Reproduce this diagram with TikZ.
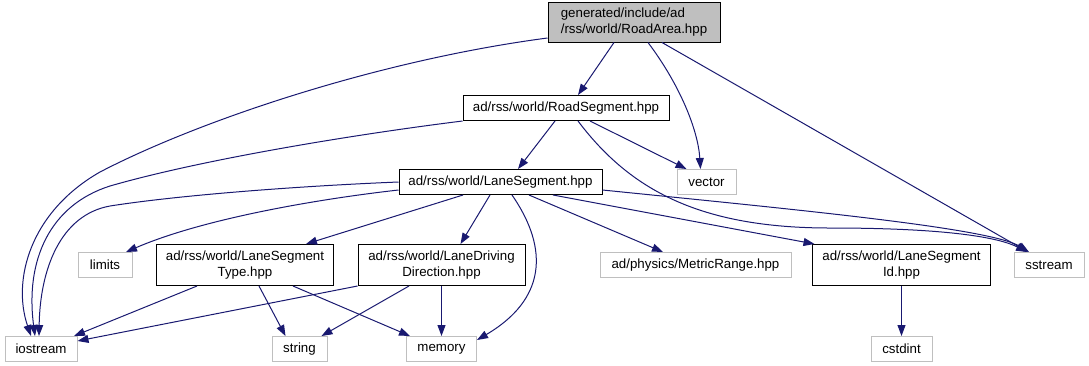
\documentclass[tikz,border=0pt]{standalone}
\usepackage{fontspec}
\usetikzlibrary{arrows.meta}
\newfontfamily\gvfont{Liberation Sans}
\newcommand\gvtext{\gvfont\fontsize{13.3}{16}\selectfont}
\definecolor{edgeblue}{HTML}{191970}
\definecolor{sysgray}{HTML}{BFBFBF}
\definecolor{hdrfill}{HTML}{BFBFBF}
\tikzset{
  filebox/.style={draw, rectangle, inner sep=0pt, font=\gvtext, align=center, line width=1pt},
  mainfile/.style={filebox, fill=hdrfill, draw=black, align=left},
  projfile/.style={filebox, draw=black},
  sysfile/.style={filebox, draw=sysgray},
  dep/.style={draw=edgeblue, line width=1pt, -{Triangle[length=11pt,width=8pt]}},
}
\begin{document}
\begin{tikzpicture}[x=1pt, y=-1pt]
\useasboundingbox (0,0) rectangle (1089,365);

% rank 0
\node[mainfile, minimum width=172pt, minimum height=40pt] (ra) at (634,22)
  {generated/include/ad\\/rss/world/RoadArea.hpp};
% rank 1
\node[projfile, minimum width=206pt, minimum height=25pt] (rs) at (566,108) {ad/rss/world/RoadSegment.hpp};
% rank 2
\node[projfile, minimum width=203pt, minimum height=25pt] (ls) at (500.5,182) {ad/rss/world/LaneSegment.hpp};
\node[sysfile, minimum width=59pt, minimum height=25pt] (vec) at (706.5,182) {vector};
% rank 3
\node[sysfile, minimum width=54pt, minimum height=25pt] (lim) at (105,265) {limits};
\node[projfile, minimum width=177pt, minimum height=41pt] (lst) at (245,265) {ad/rss/world/LaneSegment\\Type.hpp};
\node[projfile, minimum width=167pt, minimum height=41pt] (ldd) at (441.5,265) {ad/rss/world/LaneDriving\\Direction.hpp};
\node[sysfile, minimum width=191pt, minimum height=25pt] (mr) at (695.5,265) {ad/physics/MetricRange.hpp};
\node[projfile, minimum width=178pt, minimum height=41pt] (lsid) at (901.5,265) {ad/rss/world/LaneSegment\\Id.hpp};
\node[sysfile, minimum width=70pt, minimum height=25pt] (ss) at (1049,265) {sstream};
% rank 4
\node[sysfile, minimum width=72pt, minimum height=25pt] (io) at (41,349) {iostream};
\node[sysfile, minimum width=55pt, minimum height=25pt] (str) at (299.5,349) {string};
\node[sysfile, minimum width=70pt, minimum height=25pt] (mem) at (441.5,349) {memory};
\node[sysfile, minimum width=61pt, minimum height=25pt] (cst) at (901.5,349) {cstdint};

% RoadArea.hpp includes
\draw[dep] ([xshift=-20pt]ra.south) -- ([xshift=12pt]rs.north);
\draw[dep] ([xshift=14pt]ra.south) .. controls (680,85) and (698,130) .. ([xshift=-6pt]vec.north);
\draw[dep] ([xshift=28pt]ra.south) -- ([xshift=-21pt]ss.north);
\draw[dep] ([yshift=-16pt]ra.west) .. controls (380,60) and (200,120) .. (100,172)
  .. controls (30,212) and (12,280) .. ([xshift=-10pt]io.north);

% RoadSegment.hpp includes
\draw[dep] ([xshift=-11pt]rs.south) -- ([xshift=17.5pt]ls.north);
\draw[dep] ([xshift=24pt]rs.south) -- ([xshift=-20pt]vec.north);
\draw[dep] ([xshift=12pt]rs.south) .. controls (630,190) and (700,228) .. (830,228)
  .. controls (950,228) and (1000,238) .. ([xshift=-22pt]ss.north);
\draw[dep] (rs.south west) .. controls (350,135) and (200,160) .. (110,186)
  .. controls (50,205) and (25,260) .. ([xshift=-6pt]io.north);

% LaneSegment.hpp includes
\draw[dep] (ls.west) .. controls (300,186) and (180,195) .. (110,206)
  .. controls (60,215) and (40,270) .. ([xshift=-2pt]io.north);
\draw[dep] ([yshift=-8pt]ls.west) .. controls (310,200) and (200,220) .. ([xshift=21pt]lim.north);
\draw[dep] ([xshift=-37.5pt]ls.south) -- ([xshift=61pt]lst.north);
\draw[dep] ([xshift=-10.5pt]ls.south) -- ([xshift=19pt]ldd.north);
\draw[dep] ([xshift=11.5pt]ls.south) .. controls (550,250) and (545,300) .. ([yshift=-4pt]mem.north east);
\draw[dep] ([xshift=28.5pt]ls.south) -- ([xshift=-32.5pt]mr.north);
\draw[dep] ([xshift=52.5pt]ls.south) -- ([xshift=-87pt]lsid.north);
\draw[dep] ([yshift=-8pt]ls.east) .. controls (800,210) and (990,228) .. ([xshift=-20pt]ss.north);

% LaneSegmentType.hpp includes
\draw[dep] ([xshift=-48pt]lst.south) -- ([xshift=33pt]io.north);
\draw[dep] ([xshift=14pt]lst.south) -- ([xshift=-14pt]str.north);
\draw[dep] ([xshift=48pt]lst.south) -- ([xshift=4pt]mem.north west);

% LaneDrivingDirection.hpp includes
\draw[dep] (ldd.south west) -- ([yshift=-5pt]io.north east);
\draw[dep] ([xshift=-32.5pt]ldd.south) -- ([xshift=22pt]str.north);
\draw[dep] (ldd.south) -- (mem.north);

% LaneSegmentId.hpp includes
\draw[dep] (lsid.south) -- (cst.north);
\end{tikzpicture}
\end{document}
